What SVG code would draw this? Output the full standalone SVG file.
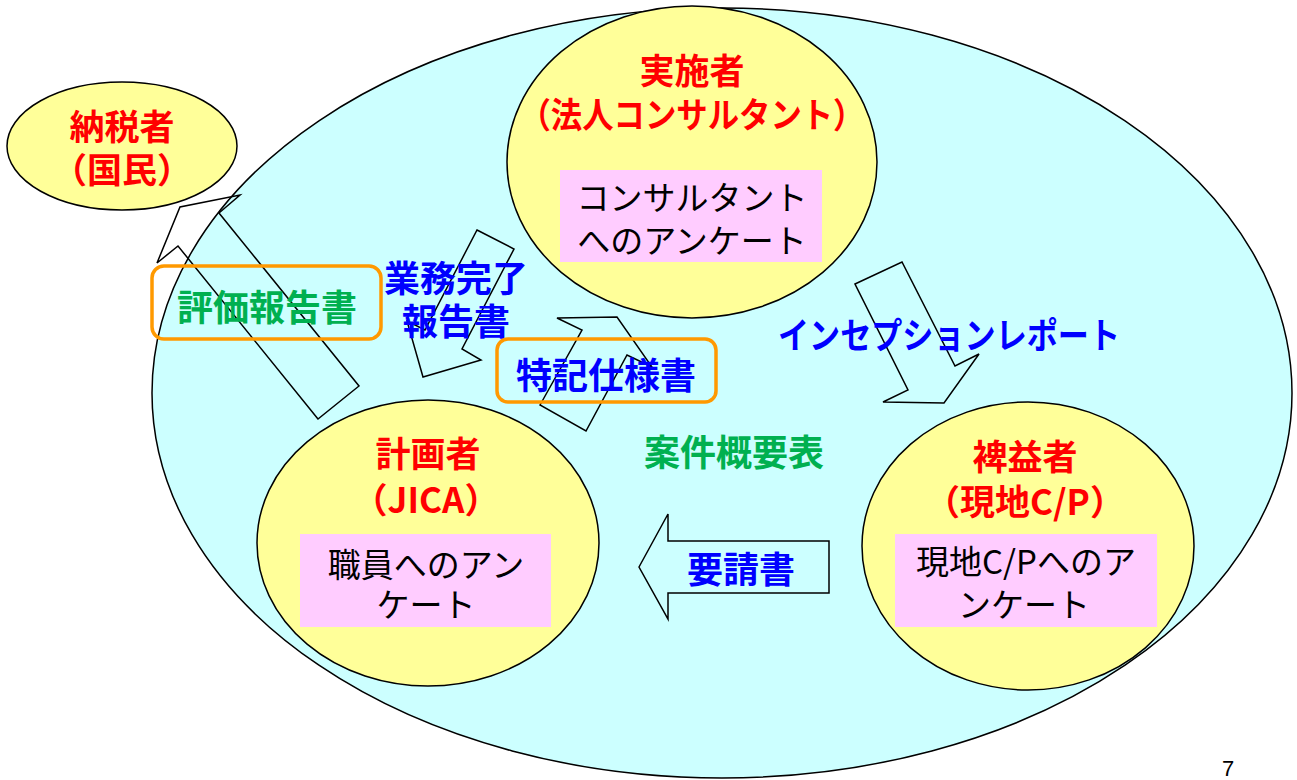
<svg xmlns="http://www.w3.org/2000/svg" width="1297" height="780" viewBox="0 0 1297 780">
<style>
.ell{stroke:#000;stroke-width:1.5}
.big{fill:#CCFFFF}
.yel{fill:#FFFF99}
.pink{fill:#FFCCFF}
.arr{fill:none;stroke:#000;stroke-width:1.5;stroke-linejoin:miter}
.obox{fill:none;stroke:#FF9900;stroke-width:3.5}
text{font-family:"Noto Sans CJK JP","Noto Sans CJK SC",sans-serif;text-anchor:middle;dominant-baseline:central}
.red{fill:#FF0000;font-weight:bold;font-size:35px}
.blue{fill:#0000FF;font-weight:bold;font-size:36px}
.green{fill:#00B050;font-weight:bold;font-size:36px}
.blk{fill:#000;font-size:33px}
</style>
<rect width="1297" height="780" fill="#fff"/>
<g id="project-area">
<ellipse class="ell big" cx="722" cy="393" rx="570" ry="385"/>
</g>
<g id="taxpayer">
<ellipse class="ell yel" cx="122" cy="146" rx="115" ry="64"/>
<text class="red" x="122" y="124">納税者</text>
<text class="red" x="122" y="167">（国民）</text>
</g>
<g id="implementer">
<ellipse class="ell yel" cx="692" cy="162" rx="185" ry="156"/>
<text class="red" x="692" y="68">実施者</text>
<text class="red" x="692" y="112" textLength="345" lengthAdjust="spacingAndGlyphs">（法人コンサルタント）</text>
<rect class="pink" x="560" y="170" width="262" height="92"/>
<text class="blk" x="692" y="196">コンサルタント</text>
<text class="blk" x="692" y="239">へのアンケート</text>
</g>
<g id="planner">
<ellipse class="ell yel" cx="428" cy="543" rx="171" ry="143"/>
<text class="red" x="428" y="451">計画者</text>
<text class="red" x="426" y="497">（JICA）</text>
<rect class="pink" x="300" y="534" width="251" height="93"/>
<text class="blk" x="426" y="563">職員へのアン</text>
<text class="blk" x="426" y="603">ケート</text>
</g>
<g id="beneficiary">
<ellipse class="ell yel" cx="1028" cy="546" rx="166" ry="144"/>
<text class="red" x="1025" y="454">裨益者</text>
<text class="red" x="1025" y="499">（現地C/P）</text>
<rect class="pink" x="895" y="534" width="262" height="93"/>
<text class="blk" x="1026" y="560">現地C/Pへのア</text>
<text class="blk" x="1024" y="603">ンケート</text>
</g>
<g id="connectors">
<polygon class="arr" points="318,419 178,246 157,263 180,207 240,195 219,213 359,386"/>
<polygon class="arr" points="477,230 514,249 462,349 481,360 423,377 407,321 425,330"/>
<polygon class="arr" points="540,405 582,330 557,318 617,317 652,367 627,355 586,431"/>
<polygon class="arr" points="855,284 902,262 955,366 979,354 944,403 883,402 908,390"/>
<polygon class="arr" points="639,567 668,514 668,541 829,541 829,593 668,593 668,619"/>
</g>
<g id="label-evaluation">
<rect class="obox" x="152" y="266" width="229" height="73" rx="12"/>
<text class="green" x="267" y="305">評価報告書</text>
</g>
<g id="label-completion">
<text class="blue" x="456" y="276">業務完了</text>
<text class="blue" x="456" y="319">報告書</text>
</g>
<g id="label-spec">
<rect class="obox" x="497" y="339" width="219" height="63" rx="11"/>
<text class="blue" x="606" y="373">特記仕様書</text>
</g>
<g id="label-inception">
<text class="blue" x="949" y="333" textLength="342" lengthAdjust="spacingAndGlyphs">インセプションレポート</text>
</g>
<g id="label-summary">
<text class="green" x="734" y="450">案件概要表</text>
</g>
<g id="label-request">
<text class="blue" x="741" y="567">要請書</text>
</g>
<text x="1228" y="776" style="font-family:'Liberation Sans',sans-serif;font-size:22px;dominant-baseline:alphabetic">7</text>
</svg>
